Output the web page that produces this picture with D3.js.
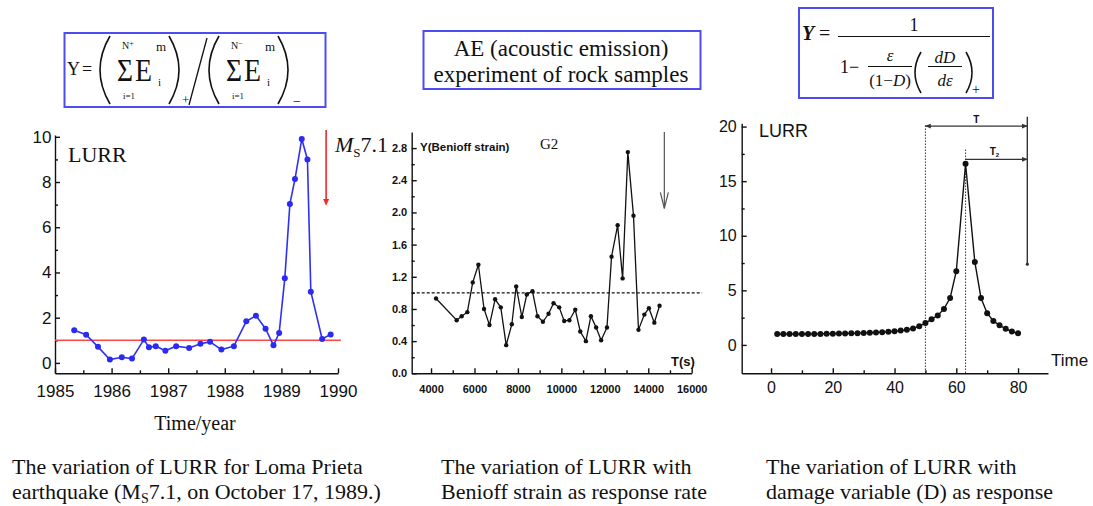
<!DOCTYPE html>
<html>
<head>
<meta charset="utf-8">
<script src="https://cdn.jsdelivr.net/npm/d3@7"></script>
<style>
  body { margin: 0; background: #fff; }
  svg { display: block; }
  .axis path, .axis line { stroke: #111; stroke-width: 1.4; }
  .axis text { font-family: 'Liberation Sans', Arial, sans-serif; fill: #111; }
  .serif { font-family: 'Liberation Serif', 'Times New Roman', serif; fill: #111; }
  .sans { font-family: 'Liberation Sans', Arial, sans-serif; fill: #111; }
</style>
</head>
<body>
<div id="chart"></div>
<script>
// panel 1: LURR before the Loma Prieta earthquake
const lomaYears = [1985.34, 1985.55, 1985.76, 1985.97, 1986.18, 1986.36, 1986.57, 1986.66, 1986.78, 1986.95, 1987.14, 1987.37, 1987.57, 1987.74, 1987.94, 1988.16, 1988.38, 1988.55, 1988.72, 1988.86, 1988.96, 1989.06, 1989.15, 1989.24, 1989.36, 1989.46, 1989.52, 1989.72, 1989.87]
const lomaLurr = [1.44, 1.25, 0.71, 0.15, 0.25, 0.19, 1.03, 0.69, 0.74, 0.54, 0.74, 0.66, 0.85, 0.93, 0.59, 0.74, 1.84, 2.09, 1.51, 0.78, 1.32, 3.74, 7.03, 8.13, 9.9, 9.0, 3.15, 1.06, 1.26]
const lomaYearTicks = [1985, 1986, 1987, 1988, 1989, 1990]
const lomaLurrTicks = [0, 2, 4, 6, 8, 10]
const quakeYear = 1989.79

// panel 2: AE experiment, Benioff strain response
const aeTime = [4230, 5180, 5410, 5670, 5920, 6180, 6440, 6690, 6950, 7210, 7460, 7720, 7920, 8180, 8410, 8670, 8900, 9150, 9410, 9640, 9900, 10130, 10370, 10640, 10870, 11130, 11360, 11600, 11830, 12100, 12310, 12590, 12820, 13060, 13320, 13550, 13820, 14030, 14280, 14520]
const aeBenioff = [0.93, 0.66, 0.71, 0.76, 1.13, 1.35, 0.80, 0.60, 0.92, 0.82, 0.35, 0.61, 1.08, 0.70, 0.98, 1.02, 0.71, 0.64, 0.74, 0.87, 0.82, 0.65, 0.66, 0.79, 0.52, 0.40, 0.71, 0.57, 0.41, 0.57, 1.45, 1.84, 1.18, 2.75, 1.96, 0.54, 0.73, 0.81, 0.63, 0.84]
const aeTimeTicks = [4000, 6000, 8000, 10000, 12000, 14000, 16000]
const aeYTicks = [0, 0.4, 0.8, 1.2, 1.6, 2.0, 2.4, 2.8]
const aeFailTime = 14740

// panel 3: damage variable model
const dmgTime = [2, 4, 6, 8, 10, 12, 14, 16, 18, 20, 22, 24, 26, 28, 30, 32, 34, 36, 38, 40, 42, 44, 46, 48, 50, 52, 54, 56, 58, 60, 63, 66, 68, 70, 72, 74, 76, 78, 80]
const dmgLurr = [1.0, 1.0, 1.0, 1.0, 1.0, 1.0, 1.0, 1.01, 1.02, 1.03, 1.04, 1.05, 1.06, 1.08, 1.1, 1.12, 1.14, 1.17, 1.2, 1.25, 1.31, 1.38, 1.5, 1.72, 2.0, 2.35, 2.7, 3.3, 4.3, 6.75, 16.6, 7.6, 4.3, 2.9, 2.2, 1.8, 1.48, 1.22, 1.08]
const dmgTimeTicks = [0, 20, 40, 60, 80]
const dmgLurrTicks = [0, 5, 10, 15, 20]
const dmgStart = 50, dmgPeak = 63, dmgFail = 83

const W = 1093, H = 506
const boxColor = '#4c4cf0'

let svg = d3.select('#chart').append('svg').attr('width', W).attr('height', H)

let defs = svg.append('defs')
defs.append('marker').attr('id', 'tip').attr('viewBox', '0 0 10 10').attr('refX', 9).attr('refY', 5)
  .attr('markerWidth', 5).attr('markerHeight', 5).attr('orient', 'auto-start-reverse')
  .append('path').attr('d', 'M0,1L10,5L0,9Z').attr('fill', '#333')

function drawAxes (g, x, y, op) {
  let base = y.range()[0]
  g.append('g').classed('axis', true).attr('transform', `translate(0,${base})`)
    .call(d3.axisBottom(x).tickValues(op.xTicks).tickFormat(op.xFmt).tickSizeInner(-5).tickSizeOuter(0).tickPadding(op.xPad))
    .call(a => a.selectAll('text').style('font-size', op.font + 'px').style('font-weight', op.weight))
  g.append('g').classed('axis', true).attr('transform', `translate(0,${base})`)
    .call(d3.axisBottom(x).tickValues(op.xMinor).tickFormat('').tickSizeInner(-3).tickSizeOuter(0))
    .call(a => a.select('.domain').remove())
  let left = x.range()[0]
  g.append('g').classed('axis', true).attr('transform', `translate(${left},0)`)
    .call(d3.axisLeft(y).tickValues(op.yTicks).tickFormat(op.yFmt).tickSizeInner(-5).tickSizeOuter(0).tickPadding(op.yPad))
    .call(a => a.selectAll('text').style('font-size', op.font + 'px').style('font-weight', op.weight))
  g.append('g').classed('axis', true).attr('transform', `translate(${left},0)`)
    .call(d3.axisLeft(y).tickValues(op.yMinor).tickFormat('').tickSizeInner(-3).tickSizeOuter(0))
    .call(a => a.select('.domain').remove())
}

// ---------- panel 1
let x1 = d3.scaleLinear().domain([1985, 1990]).range([55, 338])
let y1 = d3.scaleLinear().domain([-0.46, 10.08]).range([373.3, 135])
let g1 = svg.append('g')
drawAxes(g1, x1, y1, {
  xTicks: lomaYearTicks, xMinor: d3.range(1985.5, 1990, 1), xFmt: d3.format('d'), xPad: 11.5,
  yTicks: lomaLurrTicks, yMinor: [1, 3, 5, 7, 9], yFmt: d3.format('d'), yPad: 3.5,
  font: 17, weight: 'normal'
})
g1.append('line').attr('x1', x1(1985)).attr('x2', x1(1990.05)).attr('y1', y1(1)).attr('y2', y1(1))
  .attr('stroke', '#ff4545').attr('stroke-width', 1.6)
g1.append('path').datum(lomaYears.map((d, i) => [d, lomaLurr[i]]))
  .attr('d', d3.line().x(d => x1(d[0])).y(d => y1(d[1])))
  .attr('fill', 'none').attr('stroke', '#3030f4').attr('stroke-width', 1.6)
g1.selectAll('.dot1').data(lomaYears).enter().append('circle').classed('dot1', true)
  .attr('cx', d => x1(d)).attr('cy', (d, i) => y1(lomaLurr[i])).attr('r', 3).attr('fill', '#2a2af0')
// earthquake arrow
g1.append('line').attr('x1', x1(quakeYear)).attr('x2', x1(quakeYear)).attr('y1', y1(10.3)).attr('y2', y1(7.05))
  .attr('stroke', '#ee2a2a').attr('stroke-width', 1.6)
g1.append('path').attr('d', `M${x1(quakeYear) - 3},${y1(7.25)}L${x1(quakeYear) + 3},${y1(7.25)}L${x1(quakeYear)},${y1(6.95)}Z`).attr('fill', '#ee2a2a')
let ms = g1.append('text').classed('serif', true).attr('x', 335).attr('y', 152).style('font-size', '22px')
ms.append('tspan').text('M').style('font-style', 'italic')
ms.append('tspan').text('S').style('font-size', '13px').attr('dy', 5)
ms.append('tspan').text('7.1').attr('dy', -5)
g1.append('text').classed('serif', true).attr('x', 68).attr('y', 162).style('font-size', '22px').text('LURR')
g1.append('text').classed('serif', true).attr('x', 195).attr('y', 430).attr('text-anchor', 'middle')
  .style('font-size', '20px').text('Time/year')

// ---------- panel 2
let x2 = d3.scaleLinear().domain([3110, 16000]).range([411.7, 691.7])
let y2 = d3.scaleLinear().domain([0, 3.0]).range([373.3, 132])
let g2 = svg.append('g')
drawAxes(g2, x2, y2, {
  xTicks: aeTimeTicks, xMinor: d3.range(5000, 16000, 2000), xFmt: d3.format('d'), xPad: 12.2,
  yTicks: aeYTicks, yMinor: d3.range(0.2, 3.0, 0.4), yFmt: d3.format('.1f'), yPad: 4.5,
  font: 11, weight: 'bold'
})
g2.append('line').attr('x1', x2(3110)).attr('x2', x2(16480)).attr('y1', y2(1)).attr('y2', y2(1))
  .attr('stroke', '#111').attr('stroke-width', 1.1).attr('stroke-dasharray', '3,2')
g2.append('path').datum(aeTime.map((d, i) => [d, aeBenioff[i]]))
  .attr('d', d3.line().x(d => x2(d[0])).y(d => y2(d[1])))
  .attr('fill', 'none').attr('stroke', '#111').attr('stroke-width', 1.3)
g2.selectAll('.dot2').data(aeTime).enter().append('circle').classed('dot2', true)
  .attr('cx', d => x2(d)).attr('cy', (d, i) => y2(aeBenioff[i])).attr('r', 2.2).attr('fill', '#111')
// failure arrow
g2.append('line').attr('x1', x2(aeFailTime)).attr('x2', x2(aeFailTime)).attr('y1', y2(3.0)).attr('y2', y2(2.05))
  .attr('stroke', '#555').attr('stroke-width', 1.2)
g2.append('path').attr('d', `M${x2(aeFailTime) - 4},${y2(2.25)}L${x2(aeFailTime)},${y2(2.05)}L${x2(aeFailTime) + 4},${y2(2.25)}`)
  .attr('fill', 'none').attr('stroke', '#555').attr('stroke-width', 1.2)
g2.append('text').classed('sans', true).attr('x', 420).attr('y', 151).style('font-size', '11.5px')
  .style('font-weight', 'bold').text('Y(Benioff strain)')
g2.append('text').classed('serif', true).attr('x', 540).attr('y', 149).style('font-size', '15px').text('G2')
g2.append('text').classed('sans', true).attr('x', 683).attr('y', 366).attr('text-anchor', 'middle')
  .style('font-size', '13px').style('font-weight', 'bold').text('T(s)')

// ---------- panel 3
let x3 = d3.scaleLinear().domain([-9.5, 89.7]).range([741.7, 1048])
let y3 = d3.scaleLinear().domain([-2.6, 20.3]).range([373.3, 123.3])
let g3 = svg.append('g')
drawAxes(g3, x3, y3, {
  xTicks: dmgTimeTicks, xMinor: [10, 30, 50, 70], xFmt: d3.format('d'), xPad: 8.3,
  yTicks: dmgLurrTicks, yMinor: [2.5, 7.5, 12.5, 17.5], yFmt: d3.format('d'), yPad: 5,
  font: 16, weight: 'normal'
})
// T windows
g3.append('line').attr('x1', x3(dmgStart)).attr('x2', x3(dmgStart)).attr('y1', y3(20.1)).attr('y2', y3(-2.6))
  .attr('stroke', '#333').attr('stroke-width', 1).attr('stroke-dasharray', '1.5,1.5')
g3.append('line').attr('x1', x3(dmgPeak)).attr('x2', x3(dmgPeak)).attr('y1', y3(17.9)).attr('y2', y3(-2.6))
  .attr('stroke', '#333').attr('stroke-width', 1).attr('stroke-dasharray', '1.5,1.5')
g3.append('line').attr('x1', x3(dmgFail)).attr('x2', x3(dmgFail)).attr('y1', y3(20.9)).attr('y2', y3(7.4))
  .attr('stroke', '#333').attr('stroke-width', 1.4)
g3.append('circle').attr('cx', x3(dmgFail)).attr('cy', y3(7.4)).attr('r', 1.6).attr('fill', '#333')
g3.append('line').attr('x1', x3(dmgStart)).attr('x2', x3(dmgFail)).attr('y1', y3(20.05)).attr('y2', y3(20.05))
  .attr('stroke', '#333').attr('stroke-width', 1.2).attr('marker-start', 'url(#tip)').attr('marker-end', 'url(#tip)')
g3.append('line').attr('x1', x3(dmgPeak)).attr('x2', x3(dmgFail)).attr('y1', y3(17.0)).attr('y2', y3(17.0))
  .attr('stroke', '#333').attr('stroke-width', 1.2).attr('marker-end', 'url(#tip)')
g3.append('text').classed('sans', true).attr('x', (x3(dmgStart) + x3(dmgFail)) / 2).attr('y', y3(20.05) - 3)
  .attr('text-anchor', 'middle').style('font-size', '10px').style('font-weight', 'bold').text('T')
let t2 = g3.append('text').classed('sans', true).attr('x', (x3(dmgPeak) + x3(dmgFail)) / 2 - 2).attr('y', y3(17.0) - 4)
  .attr('text-anchor', 'middle').style('font-size', '10px').style('font-weight', 'bold')
t2.append('tspan').text('T')
t2.append('tspan').text('2').style('font-size', '6px').attr('dy', 2)
g3.append('path').datum(dmgTime.map((d, i) => [d, dmgLurr[i]]))
  .attr('d', d3.line().x(d => x3(d[0])).y(d => y3(d[1])))
  .attr('fill', 'none').attr('stroke', '#111').attr('stroke-width', 1.4)
g3.selectAll('.dot3').data(dmgTime).enter().append('circle').classed('dot3', true)
  .attr('cx', d => x3(d)).attr('cy', (d, i) => y3(dmgLurr[i])).attr('r', 3).attr('fill', '#111')
g3.append('text').classed('sans', true).attr('x', 759).attr('y', 137).style('font-size', '18px').text('LURR')
g3.append('text').classed('sans', true).attr('x', 1051).attr('y', 366).style('font-size', '17px').text('Time')

// ---------- formula boxes
function paren (g, x, y0, y1, bulge) {
  g.append('path').attr('d', `M${x},${y0}Q${x + bulge},${(y0 + y1) / 2} ${x},${y1}`)
    .attr('fill', 'none').attr('stroke', '#111').attr('stroke-width', 1.6)
}
function ftext (g, x, y, size, str, anchor) {
  return g.append('text').classed('serif', true).attr('x', x).attr('y', y)
    .attr('text-anchor', anchor || 'start').style('font-size', size + 'px').text(str)
}

let f1 = svg.append('g')
f1.append('rect').attr('x', 64.5).attr('y', 33).attr('width', 261).attr('height', 74)
  .attr('fill', '#fff').attr('stroke', boxColor).attr('stroke-width', 2)
ftext(f1, 67, 75, 18, 'Y')
ftext(f1, 82, 75, 18, '=')
f1.append('line').attr('x1', 207).attr('y1', 38).attr('x2', 189).attr('y2', 105).attr('stroke', '#111').attr('stroke-width', 1.3)
;[[0, '+'], [109, '\u2212']].forEach(([dx, s]) => {
  paren(f1, 110 + dx, 36, 104, -20)
  paren(f1, 169 + dx, 36, 104, 20)
  let t = ftext(f1, 122 + dx, 49, 10, 'N')
  t.append('tspan').text(s).style('font-size', '8px').attr('dy', -3)
  ftext(f1, 117 + dx, 81, 32, '\u03A3').attr('textLength', 16).attr('lengthAdjust', 'spacingAndGlyphs')
  ftext(f1, 123 + dx, 99, 9, 'i=1')
  ftext(f1, 135 + dx, 81, 32, 'E').attr('textLength', 17).attr('lengthAdjust', 'spacingAndGlyphs')
  ftext(f1, 156 + dx, 51, 13, 'm')
  ftext(f1, 158 + dx, 86, 11, 'i')
})
ftext(f1, 182, 104, 13, '+')
ftext(f1, 293, 106, 14, '\u2212')

let f2 = svg.append('g')
f2.append('rect').attr('x', 423.5).attr('y', 31).attr('width', 277).attr('height', 58)
  .attr('fill', '#fff').attr('stroke', boxColor).attr('stroke-width', 2)
ftext(f2, 561, 56, 23, 'AE (acoustic emission)', 'middle')
ftext(f2, 561, 82, 23, 'experiment of rock samples', 'middle')

let f3 = svg.append('g')
f3.append('rect').attr('x', 799).attr('y', 8).attr('width', 194).attr('height', 90)
  .attr('fill', '#fff').attr('stroke', boxColor).attr('stroke-width', 2)
ftext(f3, 802, 40, 20, 'Y').style('font-style', 'italic').style('font-weight', 'bold')
ftext(f3, 819, 40, 20, '=')
ftext(f3, 914, 31, 18, '1', 'middle')
f3.append('line').attr('x1', 838).attr('x2', 990).attr('y1', 36.5).attr('y2', 36.5).attr('stroke', '#111').attr('stroke-width', 1.2)
ftext(f3, 840, 73, 18, '1\u2212')
ftext(f3, 890, 61, 17, '\u03B5', 'middle').style('font-style', 'italic')
f3.append('line').attr('x1', 868).attr('x2', 912).attr('y1', 66.5).attr('y2', 66.5).attr('stroke', '#111').attr('stroke-width', 1)
let dd = ftext(f3, 890, 86, 17, '(1\u2212', 'middle')
dd.append('tspan').text('D').style('font-style', 'italic')
dd.append('tspan').text(')')
paren(f3, 921, 52, 93, -12)
paren(f3, 966, 52, 93, 12)
ftext(f3, 945, 63, 17, 'dD', 'middle').style('font-style', 'italic')
f3.append('line').attr('x1', 928).attr('x2', 962).attr('y1', 66.5).attr('y2', 66.5).attr('stroke', '#111').attr('stroke-width', 1)
ftext(f3, 945, 86, 17, 'd\u03B5', 'middle').style('font-style', 'italic')
ftext(f3, 972, 94, 14, '+')

// ---------- captions
let caps = svg.append('g')
ftext(caps, 12, 474, 22, 'The variation of LURR for Loma Prieta')
let c1 = ftext(caps, 12, 499, 22, 'earthquake (M')
c1.append('tspan').text('S').style('font-size', '14px').attr('dy', 4)
c1.append('tspan').text('7.1, on October 17, 1989.)').attr('dy', -4)
ftext(caps, 441, 474, 22, 'The variation of LURR with')
ftext(caps, 441, 499, 22, 'Benioff strain as response rate')
ftext(caps, 766, 474, 22, 'The variation of LURR with')
ftext(caps, 766, 499, 22, 'damage variable (D) as response')
</script>
</body>
</html>
